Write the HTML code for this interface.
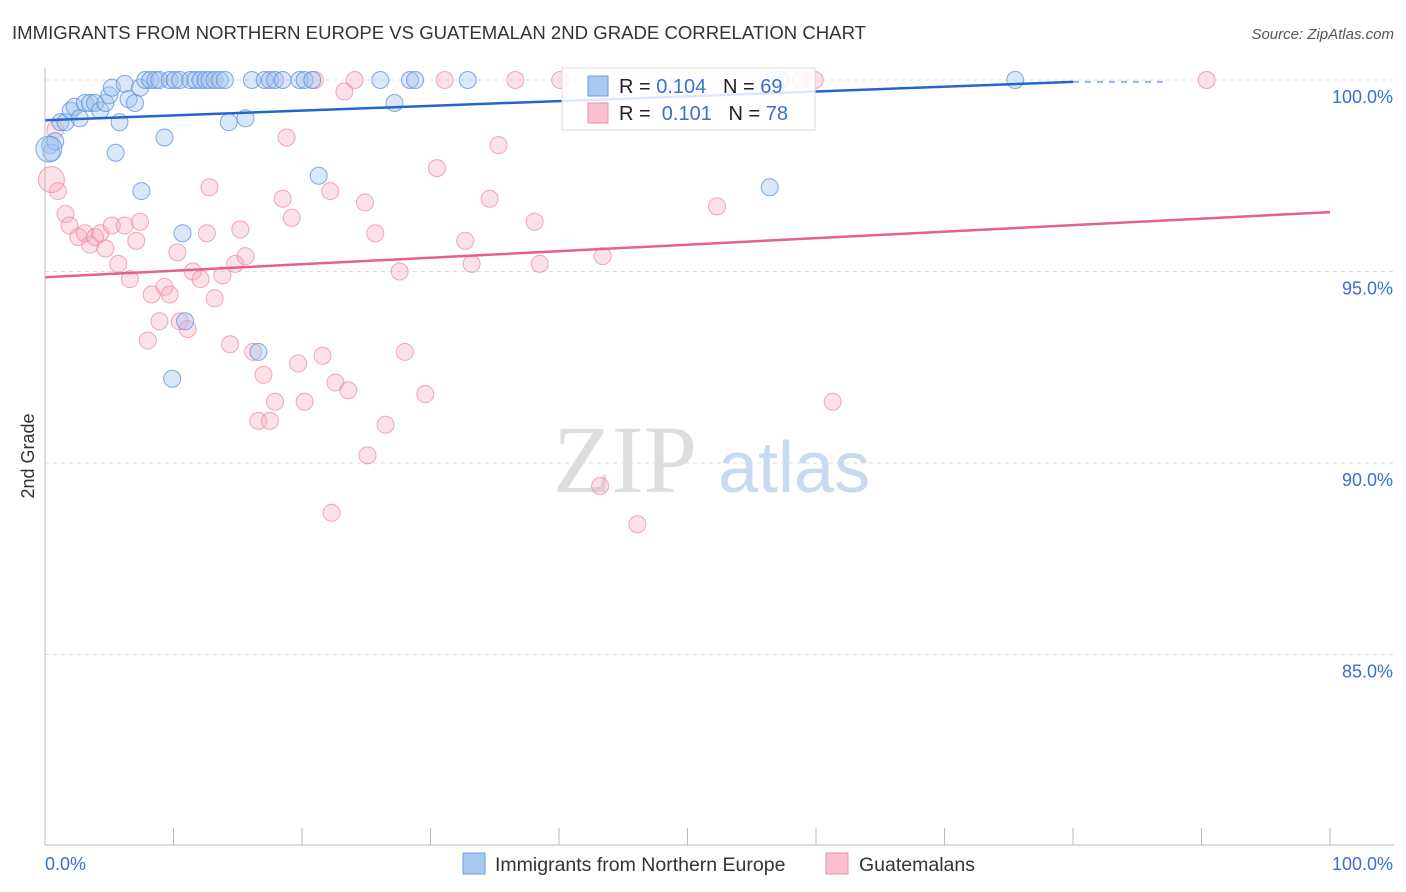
<!DOCTYPE html>
<html><head><meta charset="utf-8"><style>
body{margin:0;background:#fff;font-family:"Liberation Sans",sans-serif;}
svg{display:block}
</style></head><body>
<svg id="chart" width="1406" height="892" xmlns="http://www.w3.org/2000/svg">
<text x="12" y="39" font-size="18" fill="#333" textLength="854" lengthAdjust="spacingAndGlyphs">IMMIGRANTS FROM NORTHERN EUROPE VS GUATEMALAN 2ND GRADE CORRELATION CHART</text>
<text x="1394" y="39" font-size="15" fill="#555" font-style="italic" text-anchor="end">Source: ZipAtlas.com</text>
<g id="grid"></g>
<g>
<text x="553" y="492" font-size="96" font-family="Liberation Serif,serif" fill="#ddd">ZIP</text>
<text x="718" y="492" font-size="72" fill="#c9daf0">atlas</text>
</g>
<g id="pts"></g>
<g id="trends"></g>
<g id="axes"></g>
<text x="34" y="456" font-size="18" fill="#333" transform="rotate(-90 34 456)" text-anchor="middle">2nd Grade</text>
<g>
<rect x="562" y="68" width="253" height="62" fill="#fff" fill-opacity="0.85" stroke="#ddd"/>
<rect x="588" y="76" width="20" height="20" fill="#a9c8f0" stroke="#6b9ee0"/>
<text x="619" y="93" font-size="20" fill="#222" xml:space="preserve">R = <tspan fill="#3a6fd0">0.104</tspan>   N = <tspan fill="#3a6fd0">69</tspan></text>
<rect x="588" y="103" width="20" height="20" fill="#f8c0cf" stroke="#e890a8"/>
<text x="619" y="120" font-size="20" fill="#222" xml:space="preserve">R =  <tspan fill="#3a6fd0">0.101</tspan>   N = <tspan fill="#3a6fd0">78</tspan></text>
</g>
<g>
<rect x="463" y="853" width="22" height="21" fill="#a9c8f0" stroke="#6b9ee0"/>
<text x="495" y="871" font-size="19.5" fill="#333">Immigrants from Northern Europe</text>
<rect x="826" y="853" width="22" height="21" fill="#f8c0cf" stroke="#e890a8"/>
<text x="859" y="871" font-size="19.5" fill="#333">Guatemalans</text>
</g>
</svg>
<script>
const yTicks=[100,95,90,85];
const yTickLabels=["100.0%","95.0%","90.0%","85.0%"];
const xTickLabels=["0.0%","100.0%"];
const blueX=[0.4,0.5,0.8,1.2,1.6,2,2.3,2.7,3.1,3.5,3.9,4.3,4.7,5,5.2,5.5,5.8,6.2,6.5,7,7.4,7.5,7.8,8.2,8.6,8.9,9.3,9.7,10.1,10.5,10.7,10.9,11.3,11.7,12.1,12.5,12.8,13.2,13.6,14,14.3,15.6,16.1,16.6,17.1,17.5,17.9,18.5,19.8,20.2,20.8,21.3,26.1,27.2,28.4,28.8,32.9,9.9,56.4,57.2,75.5,0.3];
const blueY=[98.3,98.1,98.4,98.9,98.9,99.2,99.3,99,99.4,99.4,99.4,99.2,99.4,99.6,99.8,98.1,98.9,99.9,99.5,99.4,99.8,97.1,100,100,100,100,98.5,100,100,100,96,93.7,100,100,100,100,100,100,100,100,98.9,99,100,92.9,100,100,100,100,100,100,100,97.5,100,99.4,100,100,100,92.2,97.2,100,100,98.2];
const pinkX=[0.8,1.0,1.6,1.9,2.6,3.1,3.5,3.9,4.3,4.7,5.2,5.7,6.2,6.6,7.1,7.4,8.0,8.3,8.9,9.3,9.7,10.3,10.5,11.1,11.5,12.1,12.6,12.8,13.2,13.8,14.4,14.8,15.2,15.6,16.2,16.6,17.0,17.5,17.9,18.5,18.8,19.2,19.7,20.2,21.0,21.6,22.2,22.6,22.3,23.6,23.3,24.1,24.9,25.1,25.7,26.5,27.6,28.0,29.6,30.5,31.1,32.7,33.2,34.6,35.3,36.6,38.1,38.5,40.1,43.2,43.4,46.1,52.3,58.8,59.9,61.3,90.4,0.5];
const pinkY=[98.7,97.1,96.5,96.2,95.9,96.0,95.7,95.9,96.0,95.6,96.2,95.2,96.2,94.8,95.8,96.3,93.2,94.4,93.7,94.6,94.4,95.5,93.7,93.5,95.0,94.8,96.0,97.2,94.3,94.9,93.1,95.2,96.1,95.4,92.9,91.1,92.3,91.1,91.6,96.9,98.5,96.4,92.6,91.6,100,92.8,97.1,92.1,88.7,91.9,99.7,100,96.8,90.2,96.0,91.0,95.0,92.9,91.8,97.7,100,95.8,95.2,96.9,98.3,100,96.3,95.2,100,89.4,95.4,88.4,96.7,100,100,91.6,100,97.4];
const blueTrend=[0,98.95,80,99.95,87,99.95];
const pinkTrend=[0,94.85,100,96.55];
const X0=45,X1=1330,Y100=80,PX_PER=38.3;
const sx=v=>X0+(X1-X0)*v/100;
const sy=v=>Y100+(100-v)*PX_PER;
const NS="http://www.w3.org/2000/svg";
function mk(tag,attrs,parent){const e=document.createElementNS(NS,tag);for(const k in attrs)e.setAttribute(k,attrs[k]);parent.appendChild(e);return e;}
const grid=document.getElementById('grid'),axes=document.getElementById('axes'),pts=document.getElementById('pts'),tr=document.getElementById('trends');
yTicks.forEach((t,i)=>{
 const l=mk('line',{x1:X0,x2:1394,y1:sy(t),y2:sy(t),stroke:'#ddd','stroke-dasharray':'4,4'},grid);
 
 
 const tx=mk('text',{x:1393,y:sy(t)+23,'font-size':18,fill:'#3a6fd0','text-anchor':'end'},axes);
 tx.textContent=yTickLabels[i];
 
 
});
mk('line',{x1:X0,x2:X0,y1:68,y2:845,stroke:'#bbb'},axes);
mk('line',{x1:X0,x2:1394,y1:845,y2:845,stroke:'#bbb'},axes);
for(let i=0;i<=10;i++){mk('line',{x1:sx(i*10),x2:sx(i*10),y1:828,y2:845,stroke:'#bbb'},axes);}
[[0,'start',45],[1,'end',1393]].forEach(([i,a,x])=>{const t=mk('text',{x:x,y:870,'font-size':18,fill:'#3a6fd0','text-anchor':a},axes);t.textContent=xTickLabels[i];
 
 });
pinkX.forEach((x,i)=>{const c=mk('circle',{cx:sx(x),cy:sy(pinkY[i]),r:(i==pinkX.length-1?13:8.5),fill:'#f5a9bf','fill-opacity':0.35,stroke:'#e8869f','stroke-opacity':0.7},pts);
 
 });
blueX.forEach((x,i)=>{const c=mk('circle',{cx:sx(x),cy:sy(blueY[i]),r:(i==blueX.length-1?13:8.5),fill:'#9fc2ee','fill-opacity':0.4,stroke:'#5b8fdc','stroke-opacity':0.75},pts);
 
 });
const b=mk('line',{x1:sx(blueTrend[0]),y1:sy(blueTrend[1]),x2:sx(blueTrend[2]),y2:sy(blueTrend[3]),stroke:'#2266cc','stroke-width':2.5},tr);


const bd=mk('line',{x1:sx(blueTrend[2]),y1:sy(blueTrend[3]),x2:sx(blueTrend[4]),y2:sy(blueTrend[5]),stroke:'#2266cc','stroke-width':2,'stroke-dasharray':'6,6','stroke-opacity':0.5},tr);


const p=mk('line',{x1:sx(pinkTrend[0]),y1:sy(pinkTrend[1]),x2:sx(pinkTrend[2]),y2:sy(pinkTrend[3]),stroke:'#e5608a','stroke-width':2.5},tr);


</script>
</body></html>
